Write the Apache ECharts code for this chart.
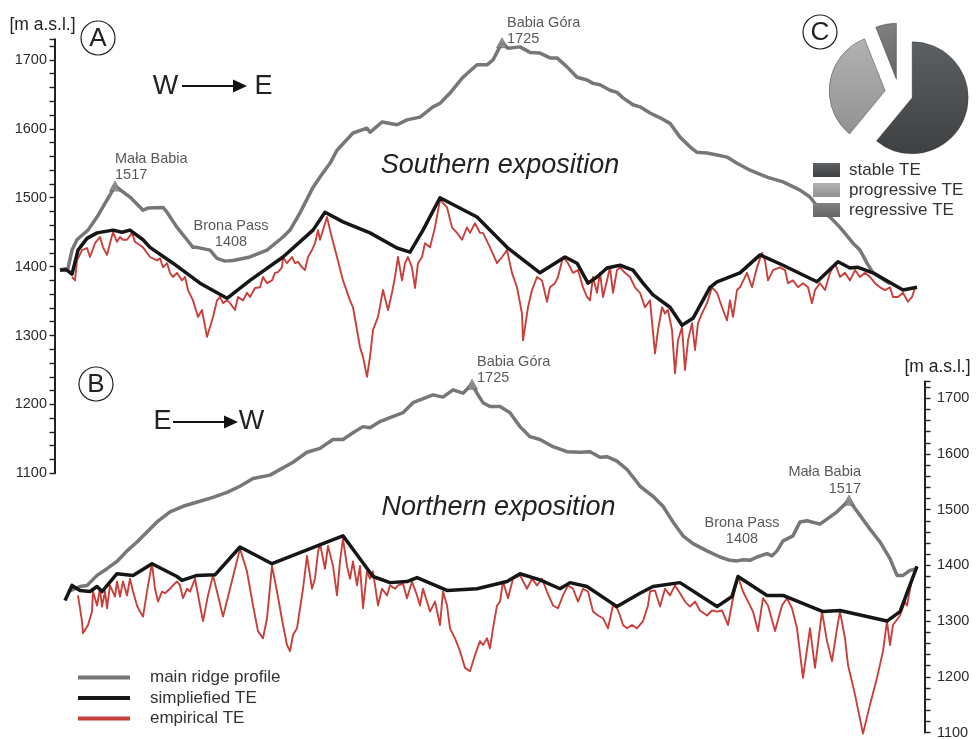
<!DOCTYPE html>
<html>
<head>
<meta charset="utf-8">
<script src="https://cdn.jsdelivr.net/npm/echarts@6/dist/echarts.min.js"></script>
<style>
  html, body { margin: 0; padding: 0; background: #fff; }
  #chart { width: 979px; height: 740px; }
</style>
</head>
<body>
<div id="chart"></div>
<script>
// Babia Góra massif: main ridge profile and treeline ecotone (TE) elevations
// distance along the ridge [km], elevation [m a.s.l.]

// ---- A: southern exposition, W -> E ----
const ridgeA = [[0.05,1395],[0.13,1398],[0.17,1424],[0.22,1439],[0.25,1443],[0.33,1453],[0.42,1472],[0.50,1492],[0.55,1504],[0.60,1517],[0.75,1501],[0.88,1482],[0.93,1485],[1.08,1486],[1.12,1479],[1.22,1457],[1.32,1439],[1.38,1428],[1.42,1428],[1.55,1424],[1.62,1412],[1.70,1408],[1.78,1409],[1.95,1414],[2.12,1424],[2.28,1443],[2.35,1453],[2.45,1478],[2.58,1515],[2.65,1530],[2.75,1550],[2.82,1569],[2.98,1594],[3.12,1601],[3.15,1595],[3.27,1610],[3.42,1606],[3.52,1613],[3.65,1617],[3.78,1632],[3.85,1637],[3.95,1652],[4.08,1675],[4.22,1693],[4.32,1693],[4.38,1700],[4.43,1714],[4.47,1725],[4.53,1717],[4.65,1719],[4.75,1711],[4.85,1710],[4.95,1703],[5.02,1703],[5.12,1690],[5.22,1675],[5.32,1671],[5.38,1666],[5.45,1664],[5.55,1656],[5.62,1653],[5.68,1645],[5.78,1635],[5.85,1632],[5.95,1623],[6.05,1616],[6.15,1608],[6.25,1588],[6.35,1574],[6.42,1566],[6.52,1565],[6.62,1562],[6.72,1559],[6.82,1550],[6.95,1540],[7.12,1530],[7.28,1523],[7.45,1511],[7.55,1501],[7.65,1482],[7.75,1472],[7.85,1457],[7.98,1434],[8.05,1424],[8.12,1405],[8.18,1391],[8.35,1375]];

const simplifiedA = [[0.05,1395],[0.12,1395],[0.17,1389],[0.23,1424],[0.32,1441],[0.42,1449],[0.58,1453],[0.67,1450],[0.75,1453],[0.88,1439],[0.95,1428],[1.18,1405],[1.45,1376],[1.72,1354],[1.95,1380],[2.28,1414],[2.58,1453],[2.70,1479],[2.88,1465],[3.15,1449],[3.42,1427],[3.55,1421],[3.68,1453],[3.85,1500],[4.22,1472],[4.52,1428],[4.85,1391],[5.10,1414],[5.22,1405],[5.33,1376],[5.42,1385],[5.52,1398],[5.65,1402],[5.78,1395],[5.88,1376],[5.98,1359],[6.15,1341],[6.27,1315],[6.38,1325],[6.55,1370],[6.62,1378],[6.85,1391],[7.05,1417],[7.28,1402],[7.62,1378],[7.83,1407],[7.95,1398],[8.03,1399],[8.18,1391],[8.48,1366],[8.62,1370]];

const empiricalA = [[0.17,1385],[0.20,1380],[0.22,1409],[0.27,1424],[0.32,1427],[0.35,1414],[0.40,1434],[0.45,1443],[0.48,1428],[0.52,1417],[0.55,1434],[0.58,1450],[0.62,1436],[0.65,1443],[0.68,1439],[0.72,1439],[0.77,1449],[0.80,1436],[0.85,1431],[0.88,1428],[0.95,1414],[1.02,1409],[1.05,1412],[1.08,1399],[1.12,1405],[1.15,1391],[1.18,1385],[1.22,1391],[1.27,1380],[1.30,1385],[1.33,1366],[1.38,1351],[1.43,1327],[1.47,1337],[1.52,1298],[1.58,1327],[1.62,1351],[1.65,1356],[1.68,1347],[1.72,1351],[1.75,1347],[1.80,1337],[1.83,1356],[1.88,1351],[1.92,1362],[1.95,1356],[2.00,1369],[2.05,1370],[2.08,1385],[2.12,1376],[2.17,1380],[2.20,1391],[2.23,1392],[2.27,1399],[2.28,1414],[2.32,1405],[2.37,1414],[2.40,1405],[2.43,1407],[2.47,1399],[2.50,1395],[2.53,1414],[2.57,1424],[2.60,1434],[2.63,1453],[2.65,1439],[2.72,1472],[2.75,1453],[2.82,1414],[2.88,1380],[2.95,1351],[2.98,1341],[3.02,1308],[3.05,1283],[3.08,1269],[3.12,1240],[3.15,1269],[3.18,1308],[3.23,1327],[3.28,1366],[3.33,1337],[3.37,1362],[3.40,1385],[3.43,1414],[3.47,1380],[3.50,1405],[3.53,1414],[3.57,1399],[3.60,1369],[3.63,1405],[3.67,1414],[3.70,1434],[3.75,1428],[3.80,1457],[3.85,1497],[3.92,1486],[3.97,1457],[4.02,1449],[4.07,1439],[4.12,1457],[4.15,1449],[4.20,1463],[4.25,1449],[4.28,1449],[4.35,1428],[4.42,1405],[4.47,1414],[4.52,1424],[4.57,1391],[4.62,1370],[4.67,1332],[4.68,1293],[4.73,1341],[4.77,1366],[4.82,1385],[4.87,1380],[4.92,1349],[4.95,1370],[5.00,1376],[5.03,1385],[5.08,1414],[5.13,1405],[5.18,1391],[5.23,1395],[5.28,1370],[5.32,1356],[5.35,1351],[5.38,1385],[5.42,1362],[5.45,1391],[5.48,1356],[5.52,1380],[5.55,1399],[5.58,1362],[5.62,1395],[5.65,1399],[5.70,1391],[5.75,1385],[5.80,1370],[5.85,1362],[5.90,1341],[5.95,1351],[6.00,1274],[6.03,1308],[6.07,1341],[6.10,1332],[6.13,1337],[6.17,1308],[6.20,1245],[6.23,1293],[6.27,1312],[6.30,1250],[6.33,1293],[6.37,1318],[6.40,1279],[6.43,1318],[6.47,1332],[6.52,1347],[6.57,1370],[6.62,1362],[6.67,1341],[6.72,1322],[6.75,1351],[6.78,1327],[6.82,1366],[6.85,1370],[6.92,1391],[6.97,1370],[7.02,1399],[7.07,1420],[7.10,1409],[7.13,1380],[7.18,1395],[7.25,1399],[7.30,1395],[7.33,1376],[7.38,1380],[7.43,1370],[7.48,1376],[7.53,1370],[7.57,1347],[7.60,1366],[7.65,1376],[7.70,1366],[7.75,1391],[7.80,1405],[7.85,1385],[7.90,1391],[7.95,1380],[8.00,1395],[8.05,1385],[8.10,1391],[8.15,1385],[8.20,1376],[8.25,1370],[8.30,1366],[8.35,1370],[8.38,1356],[8.43,1356],[8.48,1362],[8.53,1349],[8.57,1356],[8.60,1369]];

// ---- B: northern exposition, E -> W ----
const ridgeB = [[0.04,1353],[0.16,1362],[0.23,1364],[0.33,1382],[0.43,1394],[0.53,1407],[0.63,1426],[0.73,1442],[0.83,1460],[0.93,1478],[1.06,1496],[1.19,1506],[1.36,1515],[1.49,1522],[1.63,1531],[1.76,1542],[1.89,1556],[2.06,1562],[2.29,1585],[2.43,1603],[2.56,1610],[2.69,1626],[2.79,1626],[2.89,1638],[2.99,1649],[3.06,1647],[3.16,1658],[3.26,1665],[3.39,1674],[3.49,1692],[3.56,1697],[3.69,1706],[3.79,1702],[3.89,1715],[3.99,1709],[4.08,1725],[4.13,1709],[4.19,1692],[4.26,1685],[4.36,1685],[4.46,1674],[4.56,1649],[4.66,1631],[4.76,1626],[4.89,1613],[5.03,1604],[5.16,1603],[5.26,1604],[5.36,1594],[5.43,1595],[5.53,1587],[5.63,1572],[5.71,1554],[5.76,1542],[5.89,1524],[5.99,1506],[6.09,1478],[6.19,1453],[6.29,1439],[6.43,1426],[6.56,1415],[6.66,1409],[6.73,1408],[6.79,1410],[6.86,1409],[6.93,1415],[7.03,1421],[7.08,1417],[7.13,1426],[7.19,1444],[7.29,1453],[7.36,1478],[7.43,1480],[7.56,1474],[7.63,1483],[7.73,1496],[7.85,1517],[7.93,1497],[8.06,1465],[8.16,1442],[8.26,1412],[8.33,1382],[8.39,1382],[8.46,1391],[8.53,1394]];

const simplifiedB = [[0.01,1337],[0.08,1364],[0.16,1355],[0.26,1353],[0.33,1362],[0.38,1353],[0.53,1385],[0.69,1382],[0.88,1403],[1.13,1380],[1.18,1373],[1.33,1382],[1.51,1383],[1.76,1433],[2.08,1403],[2.66,1444],[2.79,1453],[3.09,1380],[3.26,1369],[3.43,1371],[3.53,1378],[3.83,1355],[4.13,1358],[4.43,1371],[4.56,1385],[4.76,1374],[4.96,1358],[5.06,1369],[5.23,1362],[5.53,1326],[5.76,1350],[5.89,1362],[6.16,1369],[6.53,1326],[6.68,1344],[6.74,1380],[7.03,1346],[7.19,1346],[7.59,1317],[7.76,1319],[8.23,1300],[8.36,1317],[8.53,1398]];

const empiricalB = [[0.14,1346],[0.18,1300],[0.19,1278],[0.24,1293],[0.28,1317],[0.29,1353],[0.33,1328],[0.36,1358],[0.38,1326],[0.41,1353],[0.43,1323],[0.46,1364],[0.51,1344],[0.53,1371],[0.56,1344],[0.59,1371],[0.63,1346],[0.66,1376],[0.69,1353],[0.73,1328],[0.76,1317],[0.79,1308],[0.84,1364],[0.88,1403],[0.91,1358],[0.94,1335],[0.98,1353],[1.01,1350],[1.06,1358],[1.09,1364],[1.13,1371],[1.16,1364],[1.19,1341],[1.23,1358],[1.26,1353],[1.31,1376],[1.36,1328],[1.39,1300],[1.44,1346],[1.49,1382],[1.54,1346],[1.59,1308],[1.66,1358],[1.76,1430],[1.83,1389],[1.89,1328],[1.94,1282],[1.99,1269],[2.03,1305],[2.08,1399],[2.13,1353],[2.19,1293],[2.23,1257],[2.26,1246],[2.29,1275],[2.33,1287],[2.39,1358],[2.43,1417],[2.48,1358],[2.51,1376],[2.54,1424],[2.56,1439],[2.61,1394],[2.64,1435],[2.69,1399],[2.73,1346],[2.76,1407],[2.79,1448],[2.83,1399],[2.86,1376],[2.89,1407],[2.93,1364],[2.96,1399],[2.99,1323],[3.03,1389],[3.06,1376],[3.09,1389],[3.14,1328],[3.18,1358],[3.23,1346],[3.26,1364],[3.31,1358],[3.34,1364],[3.39,1367],[3.43,1341],[3.48,1371],[3.53,1346],[3.56,1328],[3.59,1358],[3.63,1335],[3.66,1317],[3.71,1335],[3.76,1293],[3.79,1353],[3.83,1328],[3.86,1287],[3.91,1269],[3.96,1246],[4.01,1216],[4.06,1210],[4.11,1239],[4.16,1264],[4.19,1257],[4.23,1269],[4.26,1251],[4.29,1287],[4.33,1328],[4.36,1335],[4.39,1371],[4.44,1341],[4.49,1376],[4.56,1382],[4.63,1358],[4.68,1376],[4.73,1364],[4.78,1376],[4.83,1353],[4.89,1328],[4.94,1323],[4.99,1346],[5.04,1364],[5.09,1358],[5.14,1335],[5.19,1358],[5.24,1353],[5.29,1317],[5.34,1310],[5.39,1305],[5.44,1287],[5.49,1328],[5.53,1323],[5.56,1310],[5.59,1293],[5.63,1287],[5.68,1293],[5.73,1287],[5.79,1300],[5.84,1328],[5.86,1353],[5.91,1355],[5.96,1326],[6.01,1358],[6.06,1346],[6.11,1364],[6.16,1350],[6.21,1335],[6.26,1326],[6.31,1335],[6.36,1319],[6.43,1310],[6.48,1319],[6.53,1317],[6.58,1319],[6.64,1293],[6.69,1341],[6.74,1380],[6.79,1353],[6.84,1335],[6.89,1317],[6.94,1282],[6.99,1341],[7.04,1328],[7.11,1282],[7.18,1328],[7.23,1341],[7.28,1323],[7.33,1287],[7.39,1198],[7.46,1287],[7.51,1216],[7.58,1317],[7.63,1264],[7.68,1228],[7.73,1287],[7.76,1317],[7.81,1269],[7.84,1221],[7.91,1168],[7.99,1098],[8.06,1150],[8.13,1198],[8.19,1246],[8.23,1300],[8.26,1257],[8.29,1293],[8.36,1310],[8.41,1335],[8.43,1328],[8.48,1376],[8.53,1398]];

// named points on the ridge: [name, distance, elevation]
const summitsA = [['Mała Babia', 0.60, 1517], ['Babia Góra', 4.47, 1725]];
const passA = [['Brona Pass', 1.70, 1408]];
const summitsB = [['Babia Góra', 4.08, 1725], ['Mała Babia', 7.85, 1517]];
const passB = [['Brona Pass', 6.73, 1408]];

// C: share of treeline ecotone types [%]
const teTypes = ['stable TE', 'progressive TE', 'regressive TE'];
const teShares = [61, 33, 6];

// series names
const NAME_RIDGE = 'main ridge profile';
const NAME_SIMPLE = 'simpliefied TE';
const NAME_EMP = 'empirical TE';

const C_RIDGE = '#777777', C_SIMPLE = '#161616', C_EMP = '#c8403c';
const FONT = 'Liberation Sans, Arial, sans-serif';

function lineSeries(name, data, idx, color, width) {
  return {
    name, type: 'line', data, xAxisIndex: idx, yAxisIndex: idx,
    showSymbol: false, symbol: 'none', clip: false,
    itemStyle: { color }, lineStyle: { color, width, join: 'round' },
    emphasis: { disabled: true }
  };
}

const labelText = { fontSize: 14.5, lineHeight: 16.5, color: '#2e2e2e', fontFamily: FONT };

function pointSeries(list, idx, layouts, marker) {
  return {
    type: 'scatter', xAxisIndex: idx, yAxisIndex: idx, z: 5,
    symbol: marker ? 'triangle' : 'circle',
    symbolSize: marker ? [11, 10] : 1,
    itemStyle: marker ? { color: '#8c8c8c', borderColor: '#5c5c5c', borderWidth: 0.8 }
                      : { color: 'rgba(0,0,0,0)' },
    emphasis: { disabled: true },
    data: list.map((p, i) => ({
      name: p[0], value: [p[1], p[2]],
      label: Object.assign({
        show: true, position: 'top', distance: 0, verticalAlign: 'bottom',
        formatter: q => q.name + '\n' + q.value[1]
      }, labelText, layouts[i])
    }))
  };
}

function valueAxis(idx, pos, margin) {
  return {
    gridIndex: idx, type: 'value', position: pos,
    min: 1100, max: 1730, interval: 20,
    axisLine: { show: true, onZero: false, lineStyle: { color: '#222', width: 2 } },
    axisTick: { show: true, length: 5.5, lineStyle: { color: '#222', width: 1.4 } },
    axisLabel: {
      margin, fontSize: 14.5, color: '#2b2b2b', fontFamily: FONT,
      formatter: v => (v % 100 === 0 ? String(v) : '')
    },
    splitLine: { show: false }
  };
}

function grad(top, bottom) {
  return { type: 'linear', x: 0, y: 0, x2: 0, y2: 1,
           colorStops: [{ offset: 0, color: top }, { offset: 1, color: bottom }] };
}
const pieColors = [grad('#5d6062', '#3e4042'), grad('#b2b2b2', '#929292'), grad('#808080', '#656565')];

function txt(x, y, text, size, extra) {
  return {
    type: 'text', x, y, z: 10,
    style: Object.assign({
      text, fontSize: size, fontFamily: FONT, fill: '#222',
      align: 'center', verticalAlign: 'middle',
      textAlign: 'center', textVerticalAlign: 'middle'
    }, extra || {})
  };
}
function ring(cx, cy, letter) {
  return [
    { type: 'circle', z: 10, shape: { cx, cy, r: 17 }, style: { fill: '#fff', stroke: '#222', lineWidth: 1.2 } },
    txt(cx, cy + 1, letter, 26)
  ];
}
function arrow(x1, x2, y) {
  return [
    { type: 'line', z: 10, shape: { x1, y1: y, x2: x2 - 12, y2: y }, style: { stroke: '#111', lineWidth: 2 } },
    { type: 'polygon', z: 10, shape: { points: [[x2 - 14, y - 6.5], [x2, y], [x2 - 14, y + 6.5]] }, style: { fill: '#111' } }
  ];
}

const option = {
  animation: false,
  backgroundColor: '#fff',
  grid: [
    { left: 55, top: 39.3, width: 865, height: 434 },
    { left: 64, top: 381.5, width: 861, height: 353.5 }
  ],
  xAxis: [
    { gridIndex: 0, type: 'value', min: 0, max: 8.65, show: false },
    { gridIndex: 1, type: 'value', min: 0, max: 8.61, show: false }
  ],
  yAxis: [valueAxis(0, 'left', 8), valueAxis(1, 'right', 12)],
  legend: [
    {
      data: [NAME_RIDGE, NAME_SIMPLE, NAME_EMP],
      orient: 'vertical', left: 73, top: 664, icon: 'rect',
      itemWidth: 52, itemHeight: 4, itemGap: 3.5, selectedMode: false,
      textStyle: { fontSize: 17, color: '#333', fontFamily: FONT, padding: [0, 0, 0, 15] }
    },
    {
      data: teTypes,
      orient: 'vertical', left: 808, top: 156.5, icon: 'rect',
      itemWidth: 27, itemHeight: 14, itemGap: 3, selectedMode: false,
      itemStyle: { borderWidth: 0 },
      textStyle: { fontSize: 17, color: '#333', fontFamily: FONT, padding: [0, 0, 0, 4] }
    }
  ],
  series: [
    lineSeries(NAME_RIDGE, ridgeA, 0, C_RIDGE, 3.5),
    lineSeries(NAME_EMP, empiricalA, 0, C_EMP, 1.9),
    lineSeries(NAME_SIMPLE, simplifiedA, 0, C_SIMPLE, 3.5),
    lineSeries(NAME_RIDGE, ridgeB, 1, C_RIDGE, 3.5),
    lineSeries(NAME_EMP, empiricalB, 1, C_EMP, 1.9),
    lineSeries(NAME_SIMPLE, simplifiedB, 1, C_SIMPLE, 3.5),
    pointSeries(summitsA, 0, [{ align: 'left', offset: [0, 3] }, { align: 'left', offset: [5, 10] }], true),
    pointSeries(passA, 0, [{ align: 'center', offset: [6, -10] }], false),
    pointSeries(summitsB, 1, [{ align: 'left', offset: [5, 7.5] }, { align: 'right', offset: [12, 2] }], true),
    pointSeries(passB, 1, [{ align: 'center', offset: [5, -13] }], false),
    {
      type: 'pie', center: [899, 93], radius: 56, startAngle: 90, clockwise: true,
      selectedMode: 'multiple', selectedOffset: 14, z: 6,
      label: { show: false }, labelLine: { show: false },
      emphasis: { disabled: true },
      select: { itemStyle: { borderWidth: 0.8, borderColor: 'rgba(50,50,50,0.55)' } },
      itemStyle: { borderWidth: 0.8, borderColor: 'rgba(50,50,50,0.55)' },
      data: teTypes.map((n, i) => ({ name: n, value: teShares[i], selected: true, itemStyle: { color: pieColors[i] } }))
    }
  ],
  graphic: [
    txt(42.5, 25.5, '[m a.s.l.]', 17.5),
    txt(937.5, 367, '[m a.s.l.]', 17.5),
    ...ring(98, 38, 'A'),
    ...ring(96, 384, 'B'),
    ...ring(820, 32, 'C'),
    txt(165.5, 87, 'W', 27),
    ...arrow(182, 247, 86),
    txt(263.5, 87, 'E', 27),
    txt(162.5, 422, 'E', 27),
    ...arrow(173, 238, 422),
    txt(251.5, 422, 'W', 27),
    txt(500, 165, 'Southern exposition', 27, { fontStyle: 'italic' }),
    txt(498.5, 507, 'Northern exposition', 27, { fontStyle: 'italic' })
  ]
};

const chart = echarts.init(document.getElementById('chart'), null, { renderer: 'canvas' });
chart.setOption(option);
</script>
</body>
</html>
